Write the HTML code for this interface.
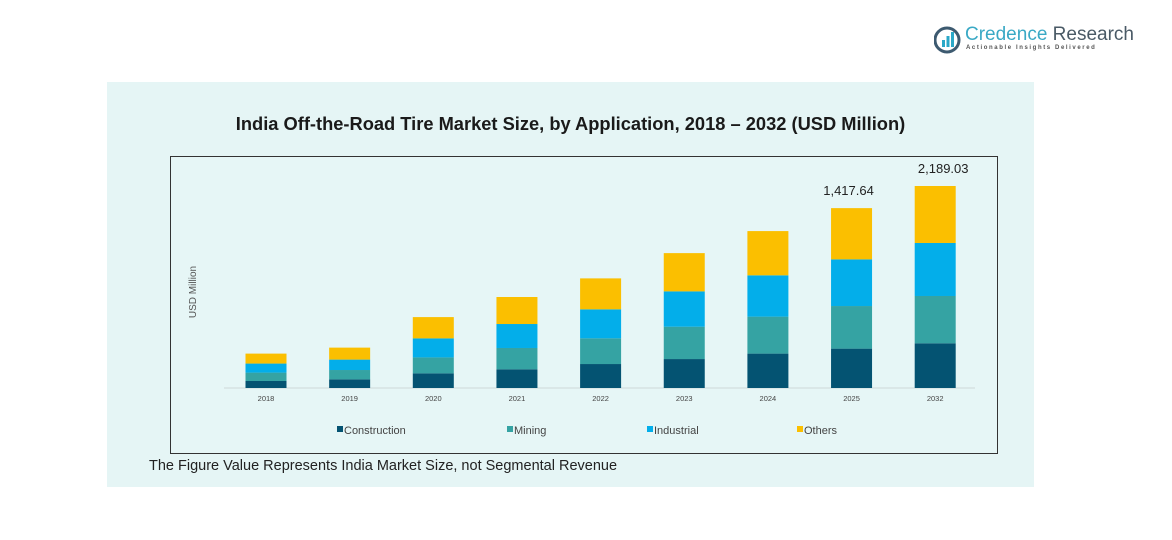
<!DOCTYPE html>
<html><head><meta charset="utf-8"><style>
body{margin:0;width:1172px;height:540px;background:#fff;font-family:"Liberation Sans",sans-serif;position:relative;overflow:hidden}
</style></head><body>
<div style="position:absolute;left:934px;top:26px;width:190px;height:30px">
<svg width="28" height="28" style="position:absolute;left:0;top:0"><circle cx="13" cy="14" r="12" fill="none" stroke="#3d5a70" stroke-width="3"/><rect x="8" y="14" width="3" height="7" fill="#2aa8c8"/><rect x="12.5" y="10" width="3" height="11" fill="#2aa8c8"/><rect x="17" y="6" width="3" height="15" fill="#2aa8c8"/></svg>
<div style="position:absolute;left:31px;top:-2px;font-size:19px;color:#3aa9c5;white-space:nowrap">Credence <span style="color:#4a5a66">Research</span></div>
<div style="position:absolute;left:32px;top:19px;font-size:6px;letter-spacing:1.6px;color:#555;white-space:nowrap;font-weight:bold">Actionable Insights Delivered</div>
</div>
<div style="position:absolute;left:107px;top:82px;width:927px;height:405px;background:#e5f5f5"></div>
<div style="position:absolute;left:107px;width:927px;top:113px;text-align:center;font-size:18.3px;font-weight:bold;color:#1a1a1a">India Off-the-Road Tire Market Size, by Application, 2018 – 2032 (USD Million)</div>
<div style="position:absolute;left:170px;top:156px;width:826px;height:296px;border:1px solid #333;background:#e6f6f6"></div>
<svg id="chart" width="1172" height="540" style="position:absolute;left:0;top:0">
<text transform="translate(196,292) rotate(-90)" text-anchor="middle" font-size="10" fill="#555" font-family="Liberation Sans,sans-serif">USD Million</text>
<line x1="224" y1="388" x2="975" y2="388" stroke="#cfd8d8" stroke-width="1"/>
</svg>
<div style="position:absolute;left:149px;top:458px;font-size:14.5px;color:#222">The Figure Value Represents India Market Size, not Segmental Revenue</div>
<script>
const categories=["2018","2019","2020","2021","2022","2023","2024","2025","2032"];
const construction=[76,94,159,203,260,314,373,427,485];
const mining=[91,101,173,231,279,351,401,462,513];
const industrial=[98,113,206,260,314,383,448,506,575];
const others=[108,130,231,293,336,415,480,556,618];
const totalLabels=["","","","","","","","1,417.64","2,189.03"];
const seriesNames=["Construction","Mining","Industrial","Others"];
const colors=["#045372","#35a3a3","#03aeea","#fbbf00"];
const legendX=[337,507,647,797];
const svg=document.getElementById('chart');
const NS="http://www.w3.org/2000/svg";
const x0=266,step=83.65,bw=41,base=388,scale=202/2191;
const xPos=i=>x0+i*step;
const yPix=v=>v*scale;
const series=[construction,mining,industrial,others];
categories.forEach((c,i)=>{
  let y=base;
  series.forEach((s,k)=>{
    const h=yPix(s[i]);y-=h;
    const r=document.createElementNS(NS,'rect');
    r.setAttribute('x',xPos(i)-bw/2);r.setAttribute('y',y);r.setAttribute('width',bw);r.setAttribute('height',h);r.setAttribute('fill',colors[k]);
    
    
    svg.appendChild(r);
  });
  const t=document.createElementNS(NS,'text');
  t.setAttribute('x',xPos(i));t.setAttribute('y',401);t.setAttribute('text-anchor','middle');t.setAttribute('font-size','7.5');t.setAttribute('fill','#444');
  t.textContent=c;
  
  
  svg.appendChild(t);
  if(totalLabels[i]){
    const l=document.createElementNS(NS,'text');
    l.setAttribute('x',xPos(i)+(i==7?-3:8));l.setAttribute('y',y-13);l.setAttribute('text-anchor','middle');l.setAttribute('font-size','13');l.setAttribute('fill','#222');
    l.textContent=totalLabels[i];
    
    
    svg.appendChild(l);
  }
});
seriesNames.forEach((n,k)=>{
  const r=document.createElementNS(NS,'rect');
  r.setAttribute('x',legendX[k]);r.setAttribute('y',426);r.setAttribute('width',6);r.setAttribute('height',6);r.setAttribute('fill',colors[k]);
  
  
  svg.appendChild(r);
  const t=document.createElementNS(NS,'text');
  t.setAttribute('x',legendX[k]+7);t.setAttribute('y',434);t.setAttribute('font-size','11');t.setAttribute('fill','#444');
  t.textContent=n;
  
  
  svg.appendChild(t);
});
</script>
</body></html>
